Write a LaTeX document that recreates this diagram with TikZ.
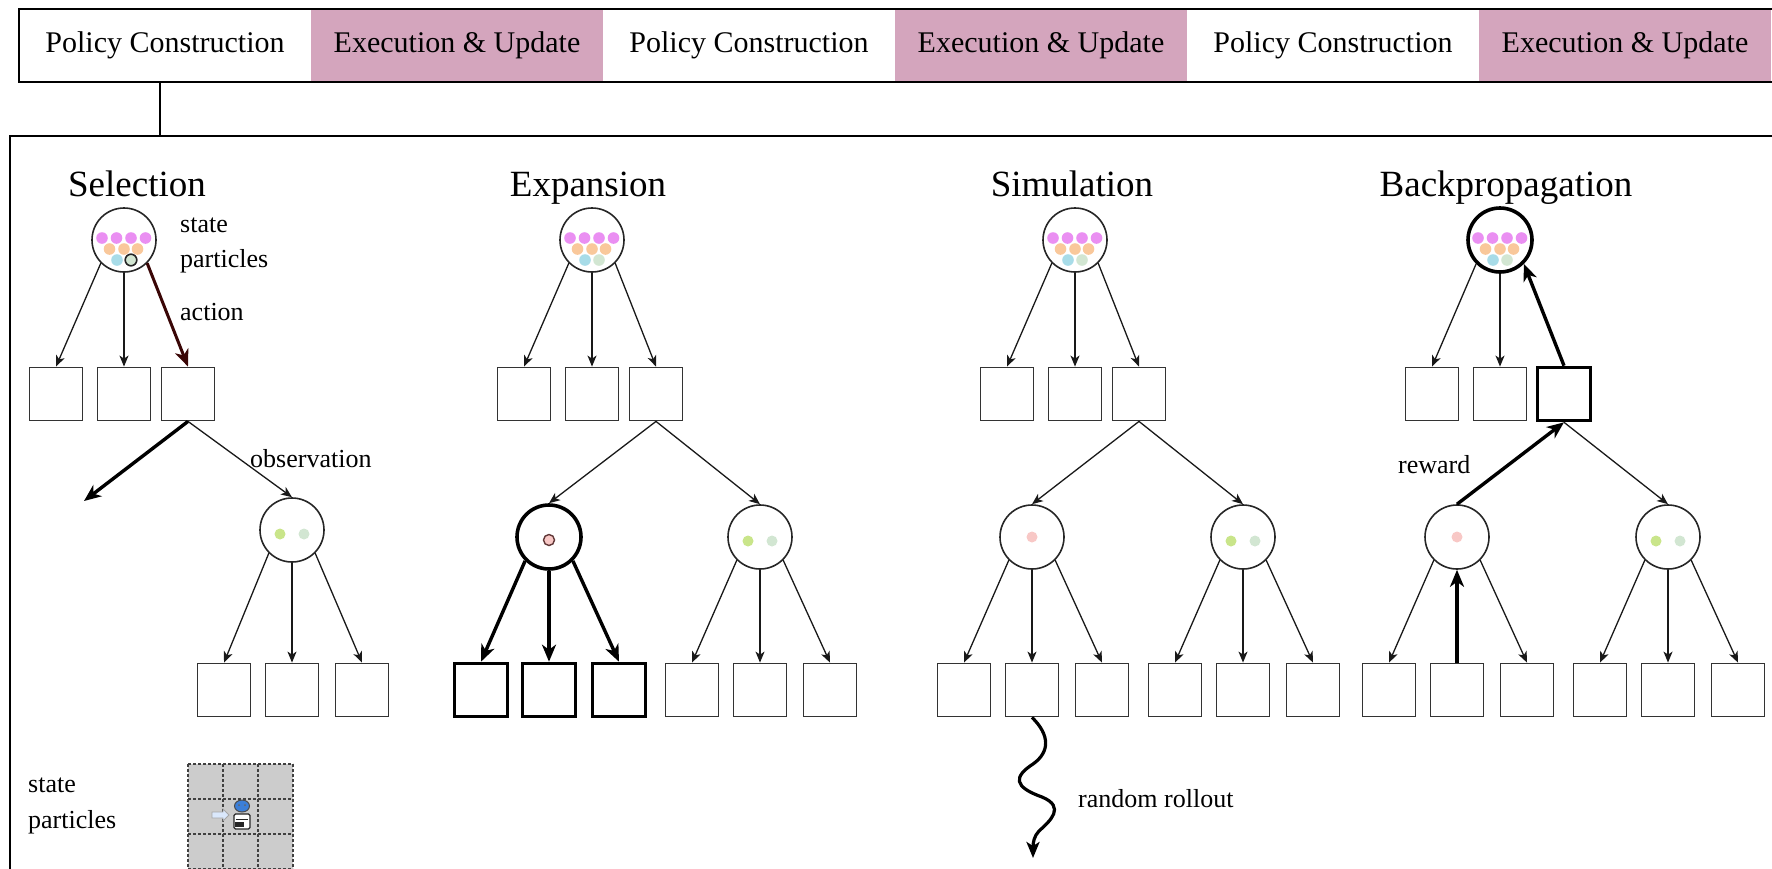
\documentclass[tikz,border=0pt]{standalone}
\usepackage{fontspec}
\setmainfont{Liberation Serif}
\usetikzlibrary{arrows.meta}
\definecolor{barpink}{HTML}{D4A5BD}
\definecolor{dpink}{HTML}{EA8FF2}
\definecolor{dorange}{HTML}{F9C89B}
\definecolor{dblue}{HTML}{A8DCE8}
\definecolor{dgreen}{HTML}{D2E6D2}
\definecolor{dlime}{HTML}{C9E58A}
\definecolor{dred}{HTML}{F8C8C6}
\definecolor{actred}{HTML}{3A0606}
\definecolor{gridgrey}{HTML}{CCCCCC}
\definecolor{robotblue}{HTML}{3C7FD8}
\definecolor{hintblue}{HTML}{DAE8FC}

% particle cloud of a belief node: 4 + 3 + 2 coloured dots
\newcommand\beliefdots[2]{%
  \foreach \dx in {-22,-7.5,7,21.5}
    \fill[dpink] ([shift={(\dx,-2)}]#1.center) circle (5.8);
  \foreach \dx in {-14.5,0,13.5}
    \fill[dorange] ([shift={(\dx,9)}]#1.center) circle (5.8);
  \fill[dblue] ([shift={(-7,20)}]#1.center) circle (5.8);
  \path[#2] ([shift={(7,20)}]#1.center) circle (5.8);
}
% two observation particles
\newcommand\obsdots[1]{%
  \fill[dlime] ([shift={(-12,4)}]#1.center) circle (5.5);
  \fill[dgreen] ([shift={(12,4)}]#1.center) circle (5.5);
}

\begin{document}
\begin{tikzpicture}[x=1pt,y=-1pt,
  every node/.style={inner sep=0pt},
  phase/.style={minimum width=292pt, minimum height=73pt, font=\fontsize{30}{34}\selectfont},
  sq/.style={draw=black!80, line width=1.8pt, minimum size=53pt},
  sqb/.style={sq, draw=black, line width=3.6pt},
  circ/.style={circle, draw=black!85, line width=1.6pt, minimum size=64pt},
  circb/.style={circ, draw=black, line width=3.6pt},
  arr/.style={draw=black!90, line width=1.3pt, -{Stealth[length=11pt,width=9pt,inset=3pt]}},
  arrb/.style={draw=black, line width=3.4pt, -{Stealth[length=17pt,width=14pt,inset=5pt]}},
  ttl/.style={anchor=base, font=\fontsize{37}{42}\selectfont},
  lbl/.style={anchor=base west, font=\fontsize{26}{30}\selectfont},
  gridline/.style={black!75, line width=1.4pt, dash pattern=on 3pt off 2pt},
]
\useasboundingbox (0,0) rectangle (1772,868);
\clip (0,0) rectangle (1772,868);

% ---------- phase bar ----------
\foreach \i/\txt/\fc in {0/Policy Construction/white, 1/Execution \& Update/barpink,
    2/Policy Construction/white, 3/Execution \& Update/barpink,
    4/Policy Construction/white, 5/Execution \& Update/barpink}
  \node[phase, fill=\fc] (ph\i) at ({165+292*\i}, 45.5) {\txt};
\draw[line width=2.2pt] (1800,9) -- (19,9) -- (19,82) -- (1800,82);

% ---------- MCTS frame ----------
\node[draw, line width=2.2pt, minimum width=1820pt, minimum height=800pt, anchor=north west] (main) at (9,135) {};
\draw[line width=1.8pt] ([xshift=-5pt]ph0.south) -- ([xshift=-5pt]ph0.south |- main.north);

% ---------- Selection ----------
\begin{scope}[shift={(124,0)}]
  \node[ttl] (aT) at (13,196) {Selection};
  \node[circ] (a0) at (0,240) {};
  \node[sq] (a1) at (-68,394) {};
  \node[sq] (a2) at (0,394) {};
  \node[sq] (a3) at (64,394) {};
  \coordinate (aL) at (-40,501);
  \node[circ] (aR) at (168,530) {};
  \node[sq] (aR1) at (100,690) {};
  \node[sq] (aR2) at (168,690) {};
  \node[sq] (aR3) at (238,690) {};
\end{scope}
\beliefdots{a0}{fill=dgreen, draw=black!85, line width=1.6pt}
\obsdots{aR}
\draw[arr] (a0.-135) -- (a1.north);
\draw[arr] (a0.south) -- (a2.north);
\draw[arrb, draw=actred, line width=3pt] (a0.-45) -- (a3.north);
\draw[arrb] (a3.south) -- (aL);
\draw[arr] (a3.south) -- (aR.north);
\draw[arr] (aR.-135) -- (aR1.north);
\draw[arr] (aR.south) -- (aR2.north);
\draw[arr] (aR.-45) -- (aR3.north);
\node[lbl] (aS1) at (180,232) {state};
\node[lbl] (aS2) at (180,267) {particles};
\node[lbl] (aAct) at (180,320) {action};
\node[lbl] (aObs) at (250,467) {observation};

% legend: one state particle as a grid world
\fill[gridgrey] (188,764) rectangle (293,869);
\foreach \g in {0,35,70,105} {
  \draw[gridline] (188+\g,764) -- (188+\g,869);
  \draw[gridline] (188,764+\g) -- (293,764+\g);
}
\draw[fill=hintblue, draw=black!35, line width=0.8pt]
  (212,812) -- (223,812) -- (223,809) -- (229,815) -- (223,821) -- (223,818) -- (212,818) -- cycle;
\draw[fill=white, draw=black!85, line width=1.2pt, rounded corners=1.5pt] (234,814) rectangle (250,829);
\draw[black!85, line width=1pt] (236,819) -- (248,819);
\fill[black!85] (235,822) rectangle (244,826.5);
\draw[fill=robotblue, draw=black!70, line width=1pt] (242,806) ellipse (7.5 and 6);
\fill[black!60] (239,805) circle (1) (245,805) circle (1);
\node[lbl] (lgS1) at (28,792) {state};
\node[lbl] (lgS2) at (28,828) {particles};

% ---------- Expansion ----------
\begin{scope}[shift={(592,0)}]
  \node[ttl] (bT) at (-4,196) {Expansion};
  \node[circ] (b0) at (0,240) {};
  \node[sq] (b1) at (-68,394) {};
  \node[sq] (b2) at (0,394) {};
  \node[sq] (b3) at (64,394) {};
  \node[circb] (bL) at (-43,537) {};
  \node[circ] (bR) at (168,537) {};
  \node[sqb] (bL1) at (-111,690) {};
  \node[sqb] (bL2) at (-43,690) {};
  \node[sqb] (bL3) at (27,690) {};
  \node[sq] (bR1) at (100,690) {};
  \node[sq] (bR2) at (168,690) {};
  \node[sq] (bR3) at (238,690) {};
\end{scope}
\beliefdots{b0}{fill=dgreen}
\filldraw[fill=dred, draw=actred!80, line width=1.4pt] ([shift={(0,3)}]bL.center) circle (5.5);
\obsdots{bR}
\draw[arr] (b0.-135) -- (b1.north);
\draw[arr] (b0.south) -- (b2.north);
\draw[arr] (b0.-45) -- (b3.north);
\draw[arr] (b3.south) -- (bL.north);
\draw[arr] (b3.south) -- (bR.north);
\draw[arrb] (bL.-135) -- (bL1.north);
\draw[arrb] (bL.south) -- (bL2.north);
\draw[arrb] (bL.-45) -- (bL3.north);
\draw[arr] (bR.-135) -- (bR1.north);
\draw[arr] (bR.south) -- (bR2.north);
\draw[arr] (bR.-45) -- (bR3.north);

% ---------- Simulation ----------
\begin{scope}[shift={(1075,0)}]
  \node[ttl] (cT) at (-3,196) {Simulation};
  \node[circ] (c0) at (0,240) {};
  \node[sq] (c1) at (-68,394) {};
  \node[sq] (c2) at (0,394) {};
  \node[sq] (c3) at (64,394) {};
  \node[circ] (cL) at (-43,537) {};
  \node[circ] (cR) at (168,537) {};
  \node[sq] (cL1) at (-111,690) {};
  \node[sq] (cL2) at (-43,690) {};
  \node[sq] (cL3) at (27,690) {};
  \node[sq] (cR1) at (100,690) {};
  \node[sq] (cR2) at (168,690) {};
  \node[sq] (cR3) at (238,690) {};
  \coordinate (cEnd) at (-42,858);
\end{scope}
\beliefdots{c0}{fill=dgreen}
\fill[dred] (cL.center) circle (5.5);
\obsdots{cR}
\draw[arr] (c0.-135) -- (c1.north);
\draw[arr] (c0.south) -- (c2.north);
\draw[arr] (c0.-45) -- (c3.north);
\draw[arr] (c3.south) -- (cL.north);
\draw[arr] (c3.south) -- (cR.north);
\foreach \p in {L,R} {
  \draw[arr] (c\p.-135) -- (c\p1.north);
  \draw[arr] (c\p.south) -- (c\p2.north);
  \draw[arr] (c\p.-45) -- (c\p3.north);
}
\draw[line width=3.2pt, -{Stealth[length=16pt,width=13pt,inset=4pt]}]
  (cL2.south) .. controls (1050,735) and (1050,752) .. (1033,764)
  .. controls (1013,777) and (1014,787) .. (1042,797)
  .. controls (1066,807) and (1050,821) .. (1039,831)
  .. controls (1034,836) and (1033,843) .. (cEnd);
\node[lbl] (cRoll) at (1078,807) {random rollout};

% ---------- Backpropagation ----------
\begin{scope}[shift={(1500,0)}]
  \node[ttl] (dT) at (6,196) {Backpropagation};
  \node[circb] (d0) at (0,240) {};
  \node[sq] (d1) at (-68,394) {};
  \node[sq] (d2) at (0,394) {};
  \node[sqb] (d3) at (64,394) {};
  \node[circ] (dL) at (-43,537) {};
  \node[circ] (dR) at (168,537) {};
  \node[sq] (dL1) at (-111,690) {};
  \node[sq] (dL2) at (-43,690) {};
  \node[sq] (dL3) at (27,690) {};
  \node[sq] (dR1) at (100,690) {};
  \node[sq] (dR2) at (168,690) {};
  \node[sq] (dR3) at (238,690) {};
\end{scope}
\beliefdots{d0}{fill=dgreen}
\fill[dred] (dL.center) circle (5.5);
\obsdots{dR}
\draw[arr] (d0.-135) -- (d1.north);
\draw[arr] (d0.south) -- (d2.north);
\draw[arrb] (d3.north) -- (d0.-45);
\draw[arrb] (dL.north) -- (d3.south);
\draw[arr] (d3.south) -- (dR.north);
\draw[arr] (dL.-135) -- (dL1.north);
\draw[arrb] (dL2.north) -- (dL.south);
\draw[arr] (dL.-45) -- (dL3.north);
\draw[arr] (dR.-135) -- (dR1.north);
\draw[arr] (dR.south) -- (dR2.north);
\draw[arr] (dR.-45) -- (dR3.north);
\node[lbl] (dRew) at (1398,473) {reward};
\end{tikzpicture}
\end{document}
